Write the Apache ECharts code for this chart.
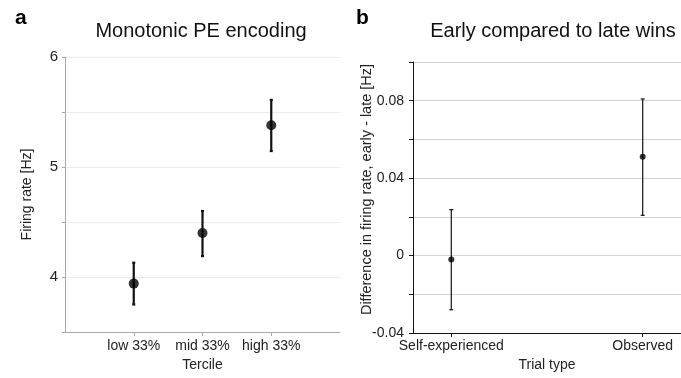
<!DOCTYPE html>
<html><head><meta charset="utf-8">
<script src="https://cdn.jsdelivr.net/npm/echarts@6/dist/echarts.min.js"></script>
<style>html,body{margin:0;padding:0;background:#fff}#c{width:681px;height:378px}</style>
</head><body><div id="c"></div>
<script>
// Panel a data
const tercileLabels = ['low 33%', 'mid 33%', 'high 33%'];
const tercileMean = [3.94, 4.40, 5.38];
const tercileLow = [3.75, 4.19, 5.145];
const tercileHigh = [4.13, 4.60, 5.61];
const aYTicks = [4, 5, 6];
// Panel b data
const trialLabels = ['Self-experienced', 'Observed'];
const trialMean = [-0.002, 0.051];
const trialLow = [-0.028, 0.0208];
const trialHigh = [0.0237, 0.0809];
const bYTicks = [-0.04, 0, 0.04, 0.08];

const FONT = 'Liberation Sans, Arial, sans-serif';
const chart = echarts.init(document.getElementById('c'));

function errData(labels, lo, hi, offset) {
  return labels.map((_, i) => [i + offset, lo[i], hi[i]]);
}
function errRender(capW, lw) {
  return function (params, api) {
    const p1 = api.coord([api.value(0), api.value(1)]);
    const p2 = api.coord([api.value(0), api.value(2)]);
    const st = { stroke: '#111', lineWidth: lw };
    return {
      type: 'group',
      children: [
        { type: 'line', shape: { x1: p1[0], y1: p1[1], x2: p2[0], y2: p2[1] }, style: st },
        { type: 'line', shape: { x1: p1[0] - capW, y1: p1[1], x2: p1[0] + capW, y2: p1[1] }, style: st },
        { type: 'line', shape: { x1: p2[0] - capW, y1: p2[1], x2: p2[0] + capW, y2: p2[1] }, style: st }
      ]
    };
  };
}
function isTick(v, ticks) { return ticks.some(t => Math.abs(t - v) < 1e-9); }

chart.setOption({
  animation: false,
  textStyle: { fontFamily: FONT },
  title: [
    { text: 'a', left: 10, top: 3, textStyle: { fontSize: 21, fontWeight: 'bold', color: '#000', fontFamily: FONT } },
    { text: 'Monotonic PE encoding', left: 196, top: 16, textAlign: 'center', textStyle: { fontSize: 20, fontWeight: 'normal', color: '#111', fontFamily: FONT } },
    { text: 'b', left: 351, top: 3, textStyle: { fontSize: 21, fontWeight: 'bold', color: '#000', fontFamily: FONT } },
    { text: 'Early compared to late wins', left: 548, top: 16, textAlign: 'center', textStyle: { fontSize: 20, fontWeight: 'normal', color: '#111', fontFamily: FONT } }
  ],
  grid: [
    { left: 65, top: 57, width: 275, height: 275 },
    { left: 413, top: 62, width: 275, height: 271 }
  ],
  xAxis: [
    {
      gridIndex: 0, type: 'value', min: 0, max: 4, interval: 1,
      name: 'Tercile', nameLocation: 'middle', nameGap: 24,
      nameTextStyle: { fontSize: 14, color: '#222', fontFamily: FONT },
      axisLine: { onZero: false, lineStyle: { color: '#aaa', width: 1 } },
      axisTick: { show: true, length: 4, lineStyle: { color: '#aaa' }, customValues: [1, 2, 3] },
      axisLabel: { fontSize: 14, color: '#222', margin: 7, customValues: [1, 2, 3],
        formatter: v => tercileLabels[Math.round(v) - 1] || '' },
      splitLine: { show: false }
    },
    {
      gridIndex: 1, type: 'value', min: 0.8, max: 2.2, interval: 1,
      name: 'Trial type', nameLocation: 'middle', nameGap: 24,
      nameTextStyle: { fontSize: 14, color: '#222', fontFamily: FONT },
      axisLine: { onZero: false, lineStyle: { color: '#111', width: 1 } },
      axisTick: { show: true, length: 4, lineStyle: { color: '#111' }, customValues: [1, 2] },
      axisLabel: { fontSize: 14, color: '#222', margin: 6, customValues: [1, 2],
        formatter: v => trialLabels[Math.round(v) - 1] || '' },
      splitLine: { show: false }
    }
  ],
  yAxis: [
    {
      gridIndex: 0, type: 'value', min: 3.5, max: 6, interval: 0.5,
      name: 'Firing rate [Hz]', nameLocation: 'middle', nameGap: 31,
      nameTextStyle: { fontSize: 14, color: '#222', fontFamily: FONT },
      axisLine: { show: true, onZero: false, lineStyle: { color: '#aaa' } },
      axisTick: { show: true, length: 3, lineStyle: { color: '#aaa' } },
      axisLabel: { fontSize: 15, color: '#222', margin: 7,
        formatter: v => isTick(v, aYTicks) ? String(v) : '' },
      splitLine: { show: true, lineStyle: { color: '#ececec', width: 1 } }
    },
    {
      gridIndex: 1, type: 'value', min: -0.04, max: 0.1, interval: 0.02,
      name: 'Difference in firing rate, early - late [Hz]', nameLocation: 'middle', nameGap: 39,
      nameMoveOverlap: false,
      nameTextStyle: { fontSize: 14.5, color: '#222', fontFamily: FONT, padding: [0, 0, 0, 16] },
      axisLine: { show: true, onZero: false, lineStyle: { color: '#111' } },
      axisTick: { show: true, length: 4, lineStyle: { color: '#111' } },
      axisLabel: { fontSize: 14, color: '#222', margin: 9,
        formatter: v => isTick(v, bYTicks) ? (Math.abs(v) < 1e-12 ? '0' : String(+v.toFixed(2))) : '' },
      splitLine: { show: true, lineStyle: { color: '#d4d4d4', width: 1 } }
    }
  ],
  series: [
    {
      type: 'custom', xAxisIndex: 0, yAxisIndex: 0,
      renderItem: errRender(1.5, 2.2),
      data: errData(tercileLabels, tercileLow, tercileHigh, 1), z: 2
    },
    {
      type: 'scatter', xAxisIndex: 0, yAxisIndex: 0, symbolSize: 10,
      itemStyle: { color: '#000' },
      data: tercileMean.map((v, i) => [i + 1, v]), z: 3
    },
    {
      type: 'custom', xAxisIndex: 1, yAxisIndex: 1,
      renderItem: errRender(2, 1.2),
      data: errData(trialLabels, trialLow, trialHigh, 1), z: 2
    },
    {
      type: 'scatter', xAxisIndex: 1, yAxisIndex: 1, symbolSize: 6,
      itemStyle: { color: '#000' },
      data: trialMean.map((v, i) => [i + 1, v]), z: 3
    }
  ]
});
</script>
</body></html>
